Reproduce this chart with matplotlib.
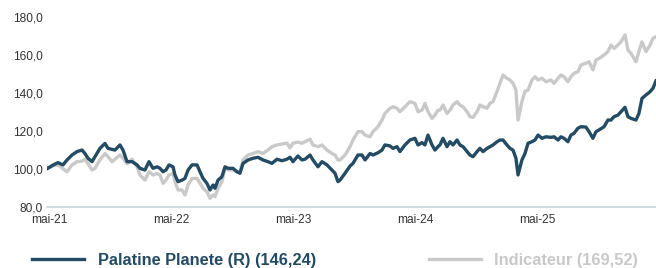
import matplotlib
matplotlib.use("Agg")
import matplotlib.pyplot as plt

# years since first point
t = [0.000, 0.049, 0.090, 0.131, 0.164, 0.205, 0.246, 0.287, 0.311, 0.336,
     0.369, 0.393, 0.434, 0.475, 0.500, 0.533, 0.557, 0.598, 0.623, 0.656,
     0.697, 0.738, 0.762, 0.803, 0.836, 0.869, 0.902, 0.926, 0.951, 0.975,
     1.000, 1.033, 1.049, 1.074, 1.107, 1.131, 1.156, 1.189, 1.230, 1.254,
     1.279, 1.311, 1.336, 1.361, 1.377, 1.402, 1.434, 1.459, 1.484, 1.525,
     1.557, 1.582, 1.607, 1.648, 1.689, 1.730, 1.770, 1.811, 1.844, 1.885,
     1.926, 1.967, 1.992, 2.016, 2.057, 2.090, 2.115, 2.156, 2.180, 2.221,
     2.254, 2.295, 2.336, 2.361, 2.385, 2.402, 2.443, 2.484, 2.508, 2.549,
     2.582, 2.607, 2.648, 2.672, 2.713, 2.746, 2.770, 2.811, 2.836, 2.869,
     2.893, 2.934, 2.975, 3.016, 3.041, 3.074, 3.098, 3.123, 3.156, 3.180,
     3.205, 3.221, 3.246, 3.279, 3.303, 3.328, 3.361, 3.385, 3.410, 3.443,
     3.467, 3.492, 3.525, 3.549, 3.574, 3.607, 3.631, 3.656, 3.689, 3.713,
     3.738, 3.770, 3.795, 3.820, 3.844, 3.861, 3.893, 3.918, 3.943, 3.975,
     4.000, 4.025, 4.057, 4.090, 4.131, 4.156, 4.189, 4.213, 4.238, 4.270,
     4.295, 4.320, 4.352, 4.377, 4.418, 4.443, 4.475, 4.500, 4.525, 4.566,
     4.598, 4.623, 4.648, 4.680, 4.705, 4.738, 4.762, 4.787, 4.828, 4.852,
     4.877, 4.910, 4.943, 4.967, 4.992]

fonds = [100.0, 101.9, 103.2, 102.0, 104.6, 107.2, 109.0, 109.8, 108.0, 105.5,
         103.7, 106.3, 110.7, 113.3, 110.7, 110.2, 109.8, 112.5, 109.8, 103.7,
         103.7, 102.0, 100.2, 99.3, 103.7, 100.2, 101.0, 100.2, 98.4, 99.3,
         102.0, 101.0, 96.7, 93.2, 94.0, 94.9, 99.3, 102.0, 102.0, 98.4,
         94.9, 92.3, 88.8, 91.4, 89.7, 94.0, 95.8, 101.0, 100.2, 100.2,
         98.4, 97.6, 102.8, 104.6, 105.5, 106.0, 104.6, 103.7, 102.8, 105.0,
         104.2, 105.0, 106.0, 103.7, 106.7, 104.6, 105.0, 107.2, 104.6, 101.0,
         103.7, 102.0, 99.3, 97.6, 93.2, 94.0, 97.6, 101.4, 102.8, 107.2,
         107.2, 104.6, 108.0, 107.2, 108.4, 109.8, 112.5, 112.0, 110.7, 111.6,
         109.0, 112.5, 115.1, 116.0, 112.5, 113.7, 112.5, 117.7, 112.5, 109.8,
         111.6, 112.5, 116.0, 111.6, 114.2, 112.5, 115.1, 112.5, 111.6, 109.0,
         107.2, 106.3, 109.0, 110.7, 109.0, 110.7, 111.6, 112.5, 114.2, 115.1,
         115.1, 112.5, 110.7, 109.8, 105.5, 96.7, 104.6, 108.0, 113.4, 114.2,
         115.1, 117.7, 116.0, 116.8, 116.5, 116.8, 115.1, 116.8, 116.0, 114.2,
         117.7, 118.6, 121.3, 122.1, 121.9, 119.5, 116.0, 119.5, 120.4, 122.1,
         125.6, 125.6, 127.4, 128.2, 130.0, 132.3, 127.4, 126.5, 125.6, 129.1,
         137.0, 138.8, 140.5, 142.3, 146.24]

indic = [100.0, 101.5, 102.0, 100.0, 98.4, 102.0, 103.7, 104.0, 105.0, 102.6,
         99.3, 100.2, 104.6, 108.0, 106.3, 103.7, 105.0, 107.2, 105.5, 102.6,
         105.0, 101.0, 96.7, 94.0, 98.4, 96.7, 97.5, 96.7, 92.3, 94.0,
         96.7, 97.5, 93.2, 88.8, 88.8, 86.2, 91.4, 94.9, 94.9, 92.3,
         89.7, 87.9, 84.4, 86.2, 85.3, 89.7, 93.2, 100.2, 99.3, 99.3,
         98.4, 98.4, 104.6, 107.2, 108.0, 109.0, 108.0, 109.8, 111.6, 112.5,
         113.0, 113.4, 111.0, 113.4, 114.0, 113.4, 114.2, 115.5, 112.5, 111.6,
         112.5, 109.8, 108.0, 107.2, 104.6, 104.6, 107.2, 111.6, 115.1, 119.5,
         119.5, 117.7, 116.8, 119.5, 122.1, 125.6, 129.1, 131.8, 132.6, 131.8,
         130.0, 132.6, 135.3, 134.4, 130.0, 130.8, 134.4, 130.0, 126.5, 128.2,
         130.8, 130.8, 133.5, 129.1, 130.8, 133.5, 135.3, 133.5, 132.6, 130.0,
         127.4, 127.0, 130.0, 133.5, 132.6, 131.8, 134.4, 135.3, 140.7, 144.9,
         149.3, 147.6, 146.7, 144.9, 141.4, 125.6, 135.3, 140.7, 141.4, 146.7,
         148.4, 146.7, 147.6, 145.8, 146.7, 144.9, 147.6, 149.3, 148.4, 145.8,
         148.4, 150.2, 151.0, 154.6, 155.5, 156.3, 152.0, 157.2, 158.0, 159.8,
         161.6, 165.1, 163.3, 165.1, 166.8, 170.4, 162.5, 160.7, 156.3, 161.6,
         166.8, 161.6, 165.1, 168.6, 169.52]

tick_pos = [0.016, 1.016, 2.016, 3.016, 4.016]
tick_lab = ["mai-21", "mai-22", "mai-23", "mai-24", "mai-25"]
yticks = [80, 100, 120, 140, 160, 180]

DARK = "#234b63"
GREY = "#c9c9c9"
plt.rcParams["font.family"] = ["Liberation Sans", "DejaVu Sans"]

fig = plt.figure(figsize=(6.56, 2.68), dpi=100)
ax = fig.add_axes([47 / 656, (268 - 206.7) / 268, 609 / 656, 190 / 268])

ax.plot(t, indic, color=GREY, lw=2.4, solid_joinstyle="round",
        label="Indicateur (169,52)", zorder=2)
ax.plot(t, fonds, color=DARK, lw=2.4, solid_joinstyle="round",
        label="Palatine Planete (R) (146,24)", zorder=3)

ax.set_xlim(0, 4.992); ax.set_ylim(80, 180)
ax.set_yticks(yticks)
ax.set_yticklabels([f"{v:.1f}".replace(".", ",") for v in yticks])
ax.set_xticks(tick_pos); ax.set_xticklabels(tick_lab)
ax.tick_params(axis="y", length=0, pad=3, labelsize=8.6, labelcolor="#333333")
ax.tick_params(axis="x", length=0, pad=5, labelsize=8.6, labelcolor="#333333")
for s in ("top", "right", "left"):
    ax.spines[s].set_visible(False)
ax.spines["bottom"].set_color("#c8d5d8"); ax.spines["bottom"].set_linewidth(1.2)
ax.patch.set_visible(False)

h, l = ax.get_legend_handles_labels()
leg = fig.legend(h[::-1], l[::-1], loc="center left",
                 bbox_to_anchor=(32 / 656, 8 / 268), ncol=2, frameon=False,
                 borderpad=0, borderaxespad=0, handlelength=3.2,
                 handletextpad=0.8, columnspacing=6.9,
                 prop={"weight": "bold", "size": 11.8}, labelcolor="linecolor")

fig.savefig("out.png", dpi=100)
